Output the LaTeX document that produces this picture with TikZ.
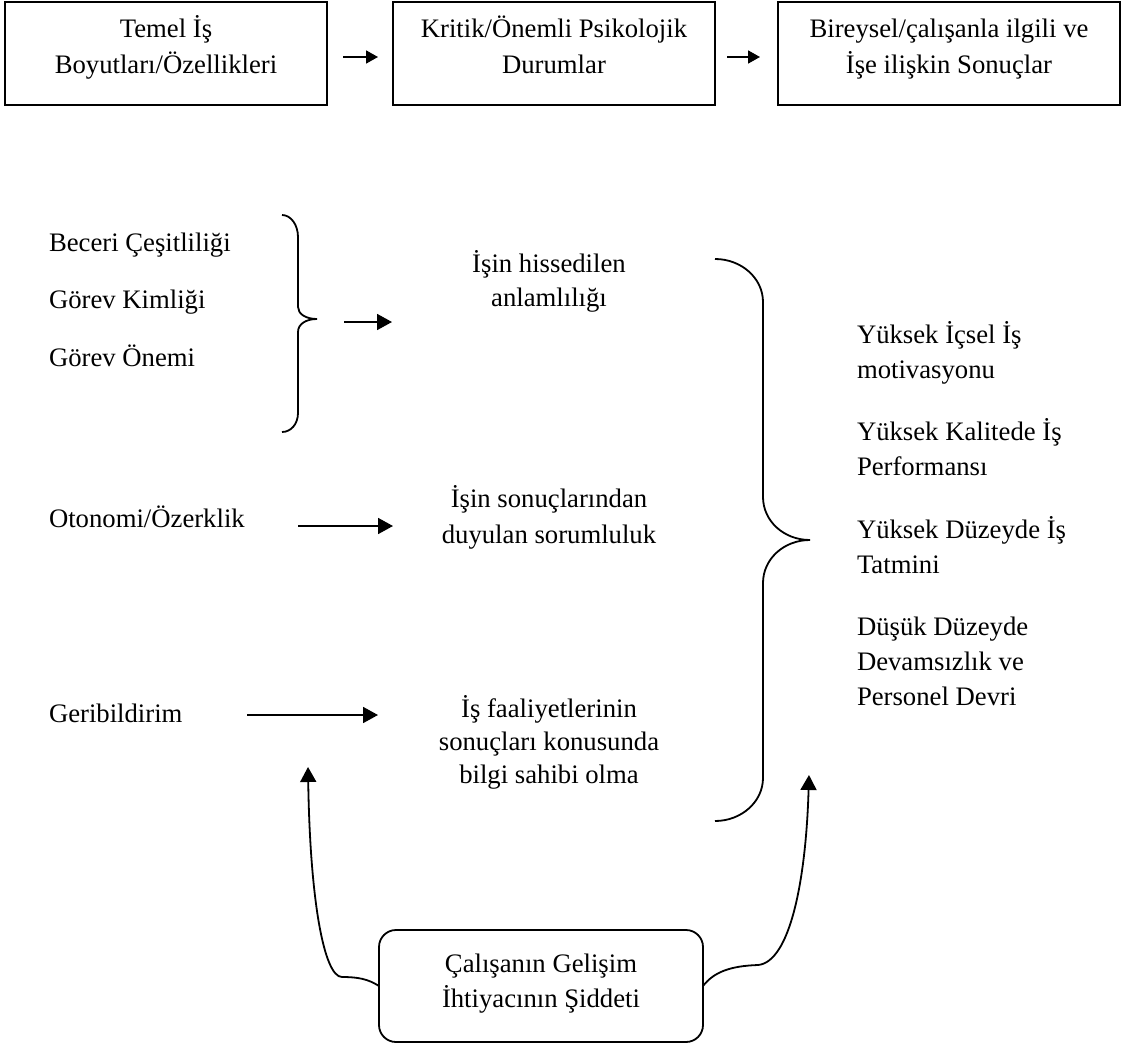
\documentclass[tikz,border=0pt]{standalone}
\usepackage{fontspec}
\setmainfont{Liberation Serif}
\usetikzlibrary{arrows.meta}
% multi-line text blocks whose reference point is the first baseline
\newcommand\ctext[1]{\begin{tabular}[t]{@{}c@{}}#1\end{tabular}}
\newcommand\ltext[1]{\begin{tabular}[t]{@{}l@{}}#1\end{tabular}}
\begin{document}
\begin{tikzpicture}[x=1pt,y=-1pt,
  every node/.style={inner sep=0pt, outer sep=0pt},
  txt/.style={font=\fontsize{26.7}{#1}\selectfont},
  txt/.default=35,
  ctr/.style={txt=#1, anchor=base},
  ctr/.default=35,
  lft/.style={txt, anchor=base west},
  box/.style={draw, line width=1.8pt, rectangle, minimum height=103pt},
  rbox/.style={draw, line width=1.8pt, rectangle, rounded corners=17pt},
  curve/.style={line width=1.8pt},
  arr/.style={line width=1.8pt, -{Triangle[length=15pt,width=16pt]}},
  sarr/.style={line width=1.8pt, -{Triangle[length=12pt,width=13pt]}}
]
\fill[white] (0,0) rectangle (1125,1044);

% top row of boxes
\node[box, minimum width=322pt] (b1) at (166,53.5) {};
\node[box, minimum width=322pt] (b2) at (554,53.5) {};
\node[box, minimum width=342pt] (b3) at (949,53.5) {};
\node[ctr=36] (t1) at (166,37) {\ctext{Temel İş\\Boyutları/Özellikleri}};
\node[ctr=36] (t2) at (554,37) {\ctext{Kritik/Önemli Psikolojik\\Durumlar}};
\node[ctr=36] (t3) at (949,37) {\ctext{Bireysel/çalışanla ilgili ve\\İşe ilişkin Sonuçlar}};
\draw[sarr] ([xshift=16pt,yshift=-3.5pt]b1.east) -- ([xshift=-15pt,yshift=-3.5pt]b2.west);
\draw[sarr] ([xshift=12pt,yshift=-3.5pt]b2.east) -- ([xshift=-18pt,yshift=-3.5pt]b3.west);

% job dimensions
\node[lft] (d1) at (49,251) {Beceri Çeşitliliği};
\node[lft] (d2) at (49,308) {Görev Kimliği};
\node[lft] (d3) at (49,366) {Görev Önemi};
\node[lft] (d4) at (49,527) {Otonomi/Özerklik};
\node[lft] (d5) at (49,722) {Geribildirim};

% brace grouping the first three dimensions
\coordinate (br1) at (317,319);
\draw[curve] (282,215) .. controls (291,215) and (298,225) .. (298,237)
  -- (298,307) .. controls (298,314) and (306,319) .. (br1)
  .. controls (306,319) and (298,324) .. (298,332)
  -- (298,413) .. controls (298,424) and (291,432) .. (282,432);

% psychological states
\node[ctr=34] (s1) at (549,272) {\ctext{İşin hissedilen\\anlamlılığı}};
\node[ctr=36] (s2) at (549,507) {\ctext{İşin sonuçlarından\\duyulan sorumluluk}};
\node[ctr=33] (s3) at (549,717) {\ctext{İş faaliyetlerinin\\sonuçları konusunda\\bilgi sahibi olma}};

\coordinate (a1s) at (344,322);  \coordinate (a1e) at (392,322);
\coordinate (a2s) at (298,526);  \coordinate (a2e) at (393,526);
\coordinate (a3s) at (247,715);  \coordinate (a3e) at (378,715);
\draw[arr] (a1s) -- (a1e);
\draw[arr] (a2s) -- (a2e);
\draw[arr] (a3s) -- (a3e);

% brace grouping the three states
\coordinate (br2) at (810,540);
\draw[curve] (715,259) .. controls (741.5,259) and (763,278.3) .. (763,302)
  -- (763,497) .. controls (763,520.7) and (783.5,540) .. (br2)
  .. controls (783.5,540) and (763,559.3) .. (763,583)
  -- (763,778) .. controls (763,801.7) and (741.5,821) .. (715,821);

% outcomes
\node[lft] (o1) at (857,343) {\ltext{Yüksek İçsel İş\\motivasyonu}};
\node[lft] (o2) at (857,440) {\ltext{Yüksek Kalitede İş\\Performansı}};
\node[lft] (o3) at (857,538) {\ltext{Yüksek Düzeyde İş\\Tatmini}};
\node[lft] (o4) at (857,635) {\ltext{Düşük Düzeyde\\Devamsızlık ve\\Personel Devri}};

% moderator box and its two feedback arrows
\node[rbox, minimum width=324pt, minimum height=112pt] (gb) at (541,986) {};
\node[ctr=35] (gt) at (541,972) {\ctext{Çalışanın Gelişim\\İhtiyacının Şiddeti}};
\coordinate (fbL) at (308,767);
\coordinate (fbR) at (809,775);
\draw[arr] (gb.west) .. controls (368,979) and (358,977) .. (342,977)
  .. controls (324,977) and (310,900) .. (fbL);
\draw[arr] (gb.east) .. controls (714,972) and (730,966) .. (758,965)
  .. controls (790,962) and (806,880) .. (fbR);
\end{tikzpicture}
\end{document}
